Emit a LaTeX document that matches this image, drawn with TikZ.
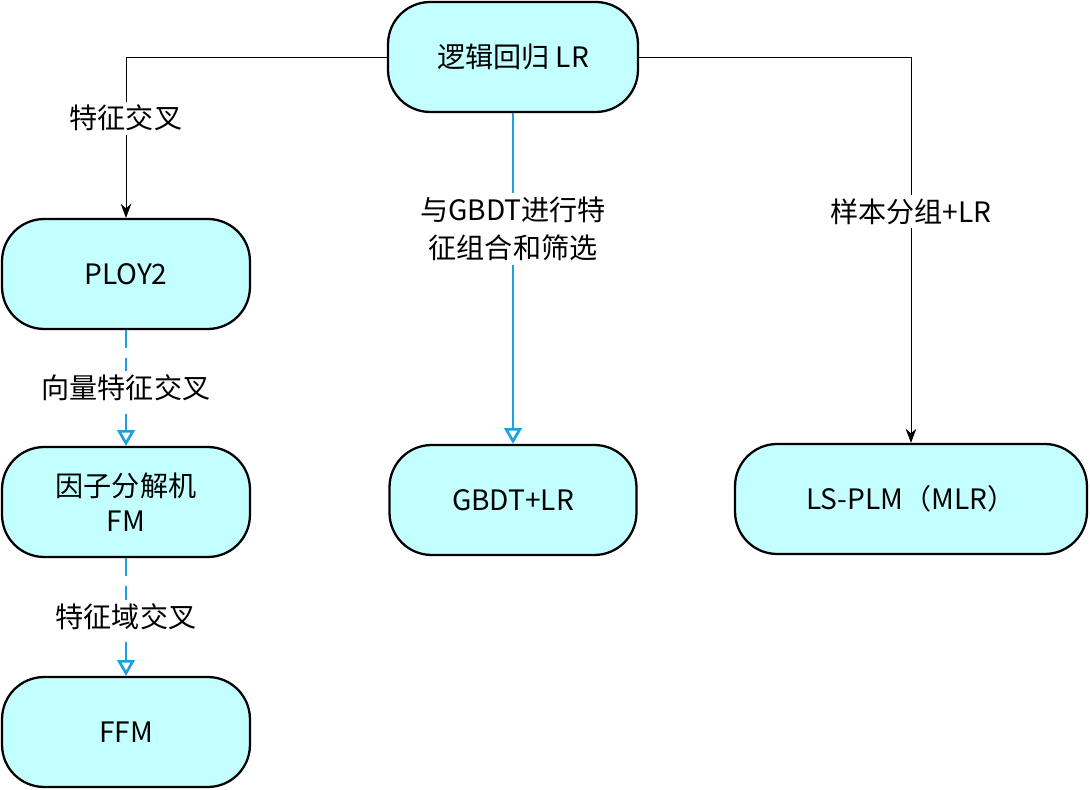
\documentclass[tikz,border=0pt]{standalone}
\usepackage{fontspec}
\setmainfont{Noto Sans CJK SC}
\usetikzlibrary{arrows.meta}
\definecolor{boxfill}{HTML}{C4FFFF}
\definecolor{linkblue}{HTML}{1BA1E2}
\begin{document}
\begin{tikzpicture}[x=0.02cm,y=-0.02cm,
    box/.style={draw,line width=1.3pt,fill=boxfill,rounded corners=24pt,
        minimum height=2.2cm,align=center,font=\fontsize{16}{20}\selectfont},
    lbl/.style={fill=white,text=black,align=center,inner sep=2pt,font=\fontsize{16}{22}\selectfont},
    blk/.style={-{Stealth[length=8pt,width=6pt]}},
    blu/.style={linkblue,line width=1.5pt,-{Triangle[open,length=9pt,width=10pt]}}]
    \useasboundingbox (0,0) rectangle (1090,790);
    \node [box,minimum width=5cm] (lr) at (513,57) {逻辑回归 LR};
    \node [box,minimum width=4.96cm] (ploy) at (126,274) {PLOY2};
    \node [box,minimum width=4.96cm] (fm) at (126,502) {因子分解机\\FM};
    \node [box,minimum width=4.96cm] (ffm) at (126,732) {FFM};
    \node [box,minimum width=4.94cm] (gbdt) at (513,500) {GBDT+LR};
    \node [box,minimum width=7.04cm] (plm) at (911,499) {LS-PLM（MLR）};
    % branches out of the LR box
    \draw [blk] (lr.west) -| node [lbl,pos=.69] {特征交叉} (ploy.north);
    \draw [blk] (lr.east) -| node [lbl,pos=.70] {样本分组+LR} (plm.north);
    \draw [blu] (lr.south) -- node [lbl,pos=.35] {与GBDT进行特\\征组合和筛选} (gbdt.north);
    % chain on the left
    \draw [blu,dashed,dash pattern=on 10pt off 6pt] (ploy.south) -- node [lbl] {向量特征交叉} (fm.north);
    \draw [blu,dashed,dash pattern=on 10pt off 6pt] (fm.south) -- node [lbl] {特征域交叉} (ffm.north);
\end{tikzpicture}
\end{document}
